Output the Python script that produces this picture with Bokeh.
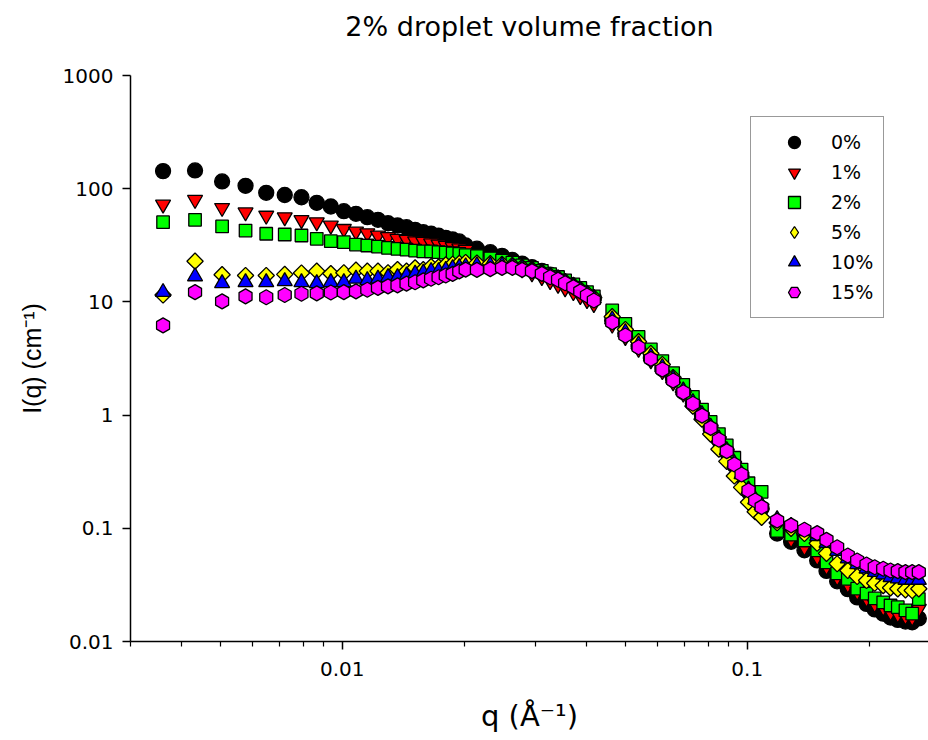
from bokeh.plotting import figure
from bokeh.models import (FixedTicker, CustomJSTickFormatter, Legend, LegendItem,
                          Title, ColumnDataSource)
from bokeh.embed import file_html
from bokeh.resources import INLINE
import math

# q values (1/Angstrom)
q = [0.00361, 0.00433, 0.00505, 0.00577, 0.00649, 0.00721, 0.00793, 0.00865, 0.00937, 0.01009,
     0.01081, 0.01153, 0.01225, 0.01297, 0.01369, 0.01441, 0.01513, 0.01585, 0.01657, 0.01729,
     0.01801, 0.01873, 0.01945, 0.02017,
     0.0215, 0.0232, 0.0248, 0.0263, 0.0278, 0.0294, 0.0311, 0.0326, 0.0341, 0.0355,
     0.0372, 0.0387, 0.0402, 0.0418,
     0.0464, 0.0500, 0.0539, 0.0578, 0.0617, 0.0656, 0.0695, 0.0734, 0.0773, 0.0812,
     0.0851, 0.0890, 0.0929, 0.0968, 0.1007, 0.1046, 0.1085,
     0.1185, 0.1283, 0.1384, 0.1488, 0.1569, 0.1667, 0.1771, 0.1868, 0.1970, 0.2064,
     0.2166, 0.2258, 0.2353, 0.2458, 0.2554, 0.2652]

i_0 = [143, 145, 116, 106, 92, 88, 84, 75, 69.6, 63.3, 60.0, 56.0, 53.1, 49.5, 47.3, 45.7,
       43.3, 41.3, 40.0, 38.4, 36.8, 35.6, 34.2, 31.5,
       29.5, 27.5, 25.5, 23.5, 21.8, 20.3, 18.8, 17.4, 16.3, 15.1, 13.9, 12.8, 11.8, 10.8,
       6.8, 5.2, 4.05, 3.2, 2.55, 2.05, 1.6, 1.27, 0.99, 0.77, 0.6, 0.47, 0.36, 0.29, 0.21,
       0.17, 0.15,
       0.09, 0.076, 0.064, 0.052, 0.042, 0.034, 0.029, 0.0245, 0.0215, 0.0192, 0.0176,
       0.0163, 0.0155, 0.015, 0.0148, 0.016]

i_1 = [72.5, 79.8, 67.7, 61.9, 57.9, 56.0, 53.0, 50.6, 47.3, 44.2, 41.9, 40.5, 38.6, 37.4,
       36.1, 35.4, 34.4, 34.0, 33.0, 32.2, 31.4, 30.6, 29.8, 29.0,
       26.5, 24.5, 22.7, 21.0, 19.4, 17.9, 16.6, 15.3, 14.2, 13.2, 12.2, 11.3, 10.4, 9.6,
       6.3, 4.9, 3.85, 3.05, 2.45, 1.95, 1.55, 1.22, 0.96, 0.75, 0.59, 0.46, 0.355, 0.285,
       0.21, 0.17, 0.15,
       0.095, 0.080, 0.068, 0.056, 0.046, 0.037, 0.032, 0.0275, 0.024, 0.0215, 0.020,
       0.0182, 0.0174, 0.0167, 0.0163, 0.0195]

i_2 = [50.6, 53.1, 46.4, 42.7, 40.0, 39.4, 38.6, 36.1, 34.4, 33.7, 32.1, 31.5, 30.8, 30.0,
       29.4, 29.0, 28.4, 28.0, 27.9, 27.5, 27.3, 26.9, 26.6, 25.9,
       25.4, 24.2, 23.2, 22.2, 21.0, 20.0, 18.8, 17.6, 16.6, 15.5, 14.3, 13.3, 12.2, 11.2,
       8.4, 6.4, 4.9, 3.8, 3.0, 2.35, 1.85, 1.45, 1.12, 0.87, 0.68, 0.54, 0.42, 0.33, 0.25,
       0.21, 0.21,
       0.095, 0.088, 0.078, 0.0637, 0.050, 0.040, 0.0357, 0.0293, 0.0265, 0.024, 0.0222,
       0.0208, 0.0201, 0.0188, 0.0176, 0.0237]

i_5 = [11.5, 22.9, 17.4, 17.1, 17.1, 17.5, 18.0, 18.7, 17.8, 18.1, 19.1, 18.7, 18.7, 18.1,
       19.3, 18.7, 20.0, 19.3, 20.5, 20.3, 21.2, 21.5, 21.9, 22.3,
       22.0, 21.8, 21.5, 21.0, 20.2, 19.4, 18.3, 17.1, 16.2, 15.1, 14.0, 12.9, 11.9, 10.9,
       7.4, 5.7, 4.45, 3.5, 2.8, 2.15, 1.6, 1.2, 0.92, 0.68, 0.50, 0.39, 0.29, 0.23, 0.17,
       0.14, 0.125,
       0.112, 0.10, 0.090, 0.0738, 0.060, 0.0486, 0.0424, 0.0375, 0.0346, 0.0327, 0.0312,
       0.0298, 0.0292, 0.0286, 0.0282, 0.0292]

i_10 = [12.2, 16.8, 14.6, 14.9, 14.9, 15.2, 14.9, 14.6, 14.9, 14.9, 16.0, 15.5, 16.0, 16.5,
        16.5, 17.1, 17.7, 18.1, 18.7, 18.7, 19.1, 19.8, 20.2, 20.6,
        21.0, 21.0, 21.0, 20.6, 19.8, 19.0, 18.0, 16.8, 16.0, 14.9, 13.8, 12.7, 11.7, 10.7,
        7.0, 5.4, 4.2, 3.3, 2.65, 2.1, 1.65, 1.3, 1.02, 0.79, 0.62, 0.49, 0.375, 0.30, 0.22,
        0.18, 0.16,
        0.12, 0.105, 0.094, 0.085, 0.074, 0.063, 0.054, 0.048, 0.044, 0.041, 0.039,
        0.037, 0.036, 0.035, 0.035, 0.035]

i_15 = [6.2, 12.2, 10.1, 11.2, 11.0, 11.5, 11.8, 11.9, 12.1, 12.2, 12.4, 12.8, 13.3, 13.7,
        14.0, 14.5, 14.9, 15.5, 16.0, 16.5, 17.1, 17.7, 18.6, 19.3,
        19.2, 19.5, 20.0, 20.0, 19.2, 18.7, 17.7, 16.5, 15.7, 14.6, 13.5, 12.4, 11.4, 10.3,
        6.6, 5.05, 3.98, 3.14, 2.53, 2.02, 1.59, 1.26, 0.99, 0.772, 0.605, 0.480, 0.366,
        0.299, 0.216, 0.176, 0.154,
        0.117, 0.106, 0.097, 0.0906, 0.079, 0.068, 0.0575, 0.052, 0.0479, 0.0453, 0.0439,
        0.0424, 0.0418, 0.041, 0.041, 0.041]

labels = ["0%", "1%", "2%", "5%", "10%", "15%"]
series = [i_0, i_1, i_2, i_5, i_10, i_15]

x_major = [0.01, 0.1]
x_minor = [0.003, 0.004, 0.005, 0.006, 0.007, 0.008, 0.009,
           0.02, 0.03, 0.04, 0.05, 0.06, 0.07, 0.08, 0.09, 0.2]
y_major = [0.01, 0.1, 1, 10, 100, 1000]

FONT = "DejaVu Sans"
VFONT = "Liberation Sans"

p = figure(width=928, height=740, x_axis_type="log", y_axis_type="log",
           x_range=(0.003, 0.2802), y_range=(0.01, 1000),
           output_backend="svg", toolbar_location=None,
           min_border_left=130, min_border_right=0, min_border_top=75,
           min_border_bottom=99, background_fill_color="white",
           border_fill_color="white")
p.title.visible = False
# blank spacer between frame and title, then the title itself
p.add_layout(Title(text=" ", text_font_size="1px", standoff=30), "above")
p.add_layout(Title(text="2% droplet volume fraction", align="center", offset=8,
                   vertical_align="bottom", text_font=FONT, text_font_size="27px",
                   text_font_style="normal", text_color="black", standoff=2), "above")
p.xgrid.visible = False
p.ygrid.visible = False
p.outline_line_color = None

fmt = CustomJSTickFormatter(code="return tick.toString();")
for ax in (p.xaxis[0], p.yaxis[0]):
    ax.axis_line_color = "black"
    ax.axis_line_width = 1.5
    ax.major_tick_line_color = "black"
    ax.major_tick_line_width = 1.5
    ax.minor_tick_line_color = "black"
    ax.minor_tick_line_width = 1.2
    ax.major_tick_in = 0
    ax.major_tick_out = 8
    ax.minor_tick_in = 0
    ax.minor_tick_out = 5
    ax.major_label_text_font = FONT
    ax.major_label_text_font_size = "20px"
    ax.major_label_text_color = "black"
    ax.axis_label_text_font_style = "normal"
    ax.axis_label_text_color = "black"
    ax.formatter = fmt

p.xaxis[0].axis_label_text_font = FONT
p.xaxis[0].axis_label_text_font_size = "29px"
p.yaxis[0].axis_label_text_font = VFONT
p.yaxis[0].axis_label_text_font_size = "25px"

p.xaxis[0].ticker = FixedTicker(ticks=x_major, minor_ticks=x_minor)
p.yaxis[0].ticker = FixedTicker(ticks=y_major, minor_ticks=[])
p.xaxis[0].major_label_standoff = 12
p.yaxis[0].major_label_standoff = 9
p.xaxis[0].axis_label = "q (Å\u207b\u00b9)"
p.yaxis[0].axis_label = "I(q) (cm\u207b\u00b9)"
p.xaxis[0].axis_label_standoff = 20
p.yaxis[0].axis_label_standoff = 14

styles = [
    dict(marker="circle", size=15, fill_color="#000000", angle=0.0),
    dict(marker="inverted_triangle", size=15, fill_color="#ff0000", angle=0.0),
    dict(marker="square", size=12.5, fill_color="#00ff00", angle=0.0),
    dict(marker="square", size=11.5, fill_color="#ffff00", angle=math.pi / 4),
    dict(marker="triangle", size=15, fill_color="#0000ff", angle=0.0),
    dict(marker="hex", size=15, fill_color="#ff00ff", angle=math.pi / 2),
]
legend_markers = ["circle", "inverted_triangle", "square", "diamond", "triangle", "hex"]

items = []
for lab, vals, st, lm in zip(labels, series, styles, legend_markers):
    src = ColumnDataSource(dict(q=q, i=vals))
    r = p.scatter(x="q", y="i", source=src, marker=st["marker"], size=st["size"],
                  angle=st["angle"], fill_color=st["fill_color"], line_color="black",
                  line_width=1.3)
    if lm != st["marker"]:
        # hidden proxy so the legend shows a diamond (legend glyphs are drawn unrotated)
        r = p.scatter(x="q", y="i", source=src, marker=lm, size=st["size"],
                      fill_color=st["fill_color"], line_color="black",
                      line_width=1.3, visible=False)
    items.append(LegendItem(label=lab, renderers=[r]))

legend = Legend(items=items, location=(620, 323), orientation="vertical",
                label_text_font=FONT, label_text_font_size="19px",
                label_text_color="black", glyph_width=66, glyph_height=30,
                label_height=30, spacing=0, padding=10, margin=0, label_standoff=4,
                border_line_color="#333333", border_line_width=1.2,
                background_fill_color="white", background_fill_alpha=1.0)
p.add_layout(legend, "center")

open("out.html", "w").write(file_html(p, INLINE))
